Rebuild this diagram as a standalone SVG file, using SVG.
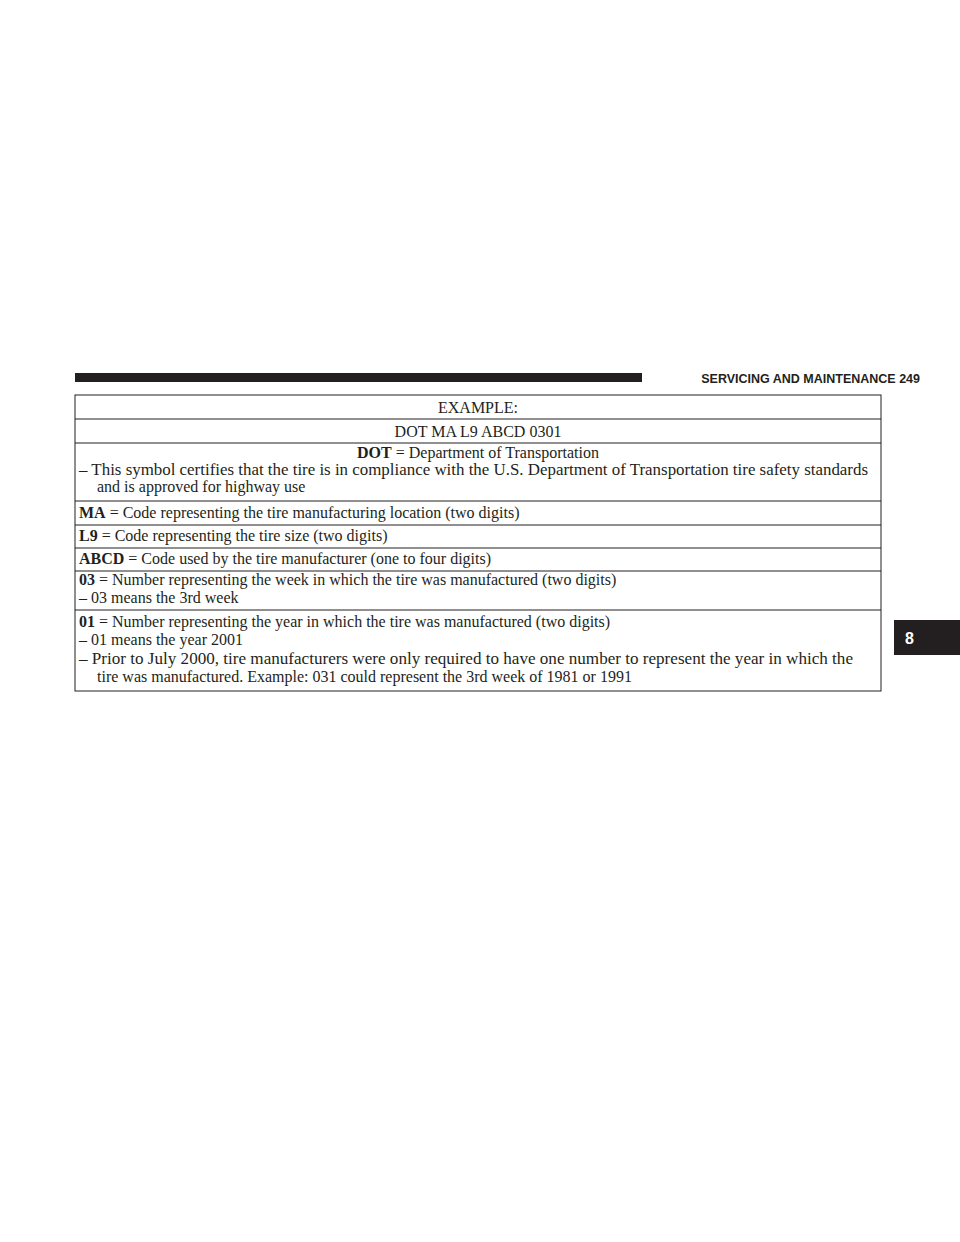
<svg xmlns="http://www.w3.org/2000/svg" width="960" height="1242" viewBox="0 0 960 1242">
<style>
.t{font-family:"Liberation Serif",serif;font-size:16px;fill:#231f20}
.b{font-weight:bold}
.h{font-family:"Liberation Sans",Arial,sans-serif;font-weight:bold;font-size:12.5px;fill:#231f20}
.ln{stroke:#231f20;stroke-width:1}
</style>
<rect width="960" height="1242" fill="#fff"/>
<g id="header">
<rect x="75" y="373" width="567" height="9" fill="#231f20"/>
<text class="h" x="920" y="383" text-anchor="end">SERVICING AND MAINTENANCE   249</text>
</g>
<g id="tab"><rect x="894" y="620" width="66" height="35" fill="#231f20"/><text x="905" y="644" font-family="Liberation Sans,sans-serif" font-weight="bold" font-size="16" fill="#fff">8</text></g>
<g id="table">
<rect x="75" y="395" width="806" height="296" fill="none" class="ln"/>
<path class="ln" d="M75 419H881M75 443H881M75 501H881M75 525H881M75 548H881M75 571H881M75 610H881"/>
<text class="t" x="478" y="413" text-anchor="middle">EXAMPLE:</text>
<text class="t" x="478" y="437" text-anchor="middle">DOT MA L9 ABCD 0301</text>
<text class="t" x="478" y="458" text-anchor="middle"><tspan class="b">DOT</tspan> = Department of Transportation</text>
<text class="t" x="79" y="475" textLength="789" lengthAdjust="spacingAndGlyphs">– This symbol certifies that the tire is in compliance with the U.S. Department of Transportation tire safety standards</text>
<text class="t" x="97" y="492">and is approved for highway use</text>
<text class="t" x="79" y="518"><tspan class="b">MA</tspan> = Code representing the tire manufacturing location (two digits)</text>
<text class="t" x="79" y="541"><tspan class="b">L9</tspan> = Code representing the tire size (two digits)</text>
<text class="t" x="79" y="564"><tspan class="b">ABCD</tspan> = Code used by the tire manufacturer (one to four digits)</text>
<text class="t" x="79" y="585"><tspan class="b">03</tspan> = Number representing the week in which the tire was manufactured (two digits)</text>
<text class="t" x="79" y="603">– 03 means the 3rd week</text>
<text class="t" x="79" y="627"><tspan class="b">01</tspan> = Number representing the year in which the tire was manufactured (two digits)</text>
<text class="t" x="79" y="645">– 01 means the year 2001</text>
<text class="t" x="79" y="664" textLength="774" lengthAdjust="spacingAndGlyphs">– Prior to July 2000, tire manufacturers were only required to have one number to represent the year in which the</text>
<text class="t" x="97" y="682">tire was manufactured. Example: 031 could represent the 3rd week of 1981 or 1991</text>
</g>
</svg>
